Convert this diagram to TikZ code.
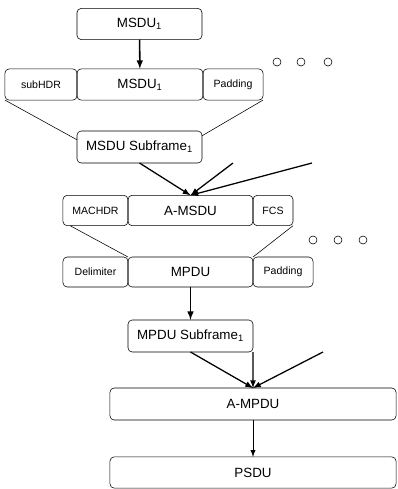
\documentclass[tikz,border=0pt]{standalone}
\usepackage{fontspec}
\setmainfont{Liberation Sans}
\usepackage{tikz}
\usetikzlibrary{positioning}
\tikzset{
  box/.style = {draw=black, rounded corners=3pt, inner sep=0pt, outer sep=0pt, minimum height=0.78cm, font=\fontsize{9.5}{11}\selectfont},
  sbox/.style = {box, font=\fontsize{7.5}{9}\selectfont},
  link/.style = {draw=black, line width=0.4pt},
  flow/.style = {->, >=latex, line width=1.1pt},
  fan/.style = {->, >=latex, line width=0.9pt}
}

\begin{document}
\begin{tikzpicture}[x=0.025cm, y=-0.025cm]
\useasboundingbox (0,0) rectangle (397,489);

% MSDU and its subframe
\node [box, minimum width=3.125cm] (msdu) at (139.5,24) {MSDU\textsubscript{1}};
\node [box, minimum width=3.15cm] (msdub) at (140,84.5) {MSDU\textsubscript{1}};
\node [sbox, minimum width=1.8cm, left=0pt of msdub] (subhdr) {subHDR};
\node [sbox, minimum width=1.5cm, right=0pt of msdub] (pada) {Padding};
\node [box, minimum width=3.125cm, minimum height=0.8cm] (msdusf) at (139.5,147) {MSDU Subframe\textsubscript{1}};

% A-MSDU into MPDU
\node [box, minimum width=3.125cm, minimum height=0.76cm] (amsdu) at (190.5,210.5) {A-MSDU};
\node [sbox, minimum width=1.625cm, minimum height=0.76cm, left=0pt of amsdu] (machdr) {MACHDR};
\node [sbox, minimum width=1cm, minimum height=0.76cm, right=0pt of amsdu] (fcs) {FCS};
\node [box, minimum width=3.125cm, minimum height=0.75cm] (mpdu) at (190.5,272) {MPDU};
\node [sbox, minimum width=1.625cm, minimum height=0.75cm, left=0pt of mpdu] (delim) {Delimiter};
\node [sbox, minimum width=1.5cm, minimum height=0.75cm, right=0pt of mpdu] (padb) {Padding};
\node [box, minimum width=3.125cm, minimum height=0.8cm] (mpdusf) at (190.5,336) {MPDU Subframe\textsubscript{1}};

% A-MPDU and PSDU
\node [box, minimum width=7.15cm, minimum height=0.8cm] (ampdu) at (253,404) {A-MPDU};
\node [box, minimum width=7.15cm, minimum height=0.78cm] (psdu) at (253,472.5) {PSDU};

% dots for more subframes
\foreach \cx in {277,301,328} \draw (\cx,62) circle (0.1cm);
\foreach \cx in {313,338,363} \draw (\cx,240) circle (0.1cm);

\coordinate (fa) at (233,163);
\coordinate (fb) at (312,163);
\coordinate (ga) at (323,352);

\draw [flow] (msdu) -- (msdub);
\draw [link] (subhdr.south west) -- ([yshift=-0.22cm]msdusf.north west);
\draw [link] (pada.south east) -- ([yshift=-0.12cm]msdusf.north east);

\draw [fan] (msdusf.south) -- (amsdu.north);
\draw [fan] (fa) -- (amsdu.north);
\draw [fan] (fb) -- (amsdu.north);

\draw [link] ([xshift=0.18cm]machdr.south west) -- (mpdu.north west);
\draw [link] (fcs.south east) -- (padb.north west);

\draw [flow] (mpdu) -- (mpdusf);

\draw [fan] (mpdusf.south) -- (ampdu.north);
\draw [fan] (mpdusf.south east) -- (ampdu.north);
\draw [fan] (ga) -- (ampdu.north);

\draw [->, >=latex, line width=0.7pt] (ampdu) -- (psdu);

\end{tikzpicture}
\end{document}
